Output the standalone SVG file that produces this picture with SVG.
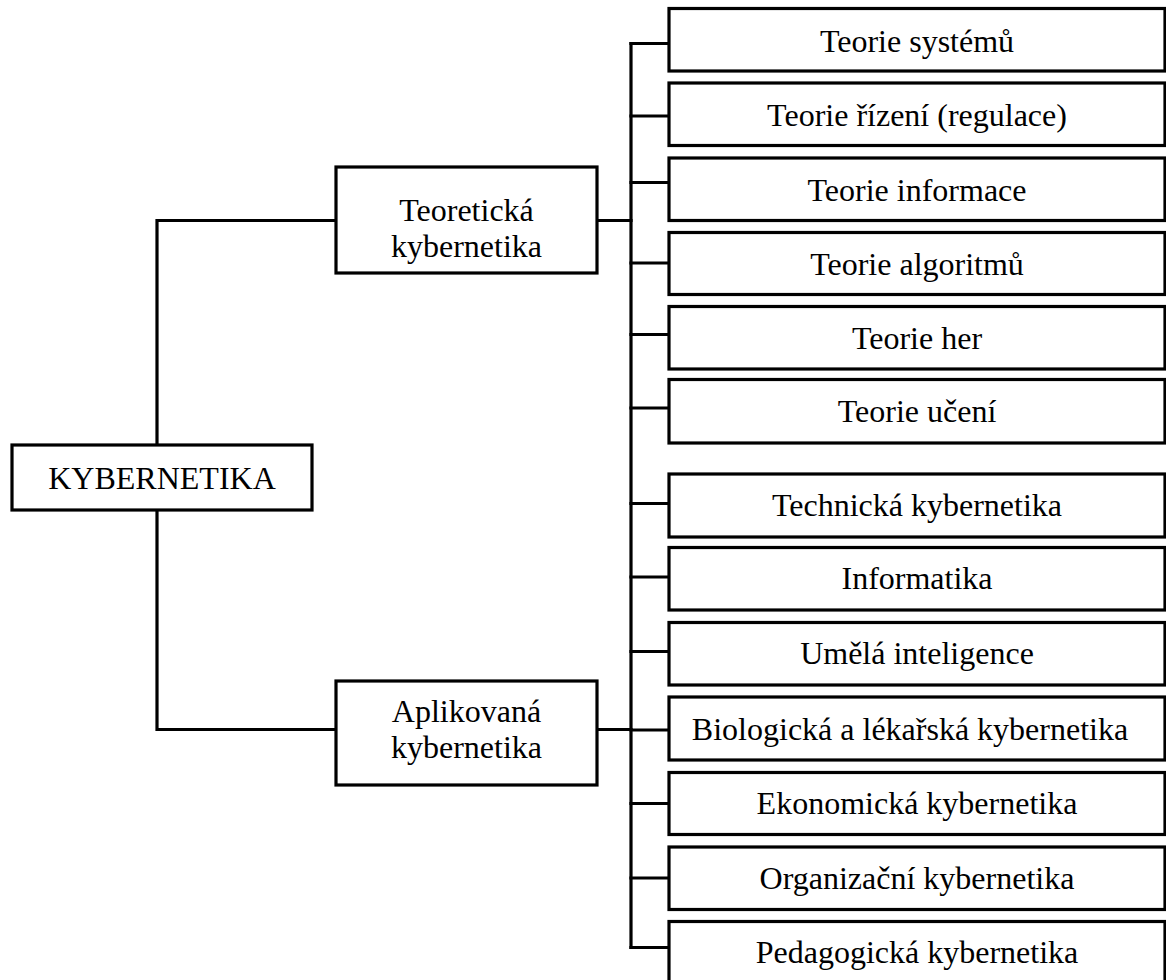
<svg xmlns="http://www.w3.org/2000/svg" width="1166" height="980" viewBox="0 0 1166 980">
  <style>
    .box { fill: #ffffff; stroke: #000000; stroke-width: 3.2; }
    .wire { fill: none; stroke: #000000; stroke-width: 3.2; stroke-linejoin: miter; stroke-linecap: square; }
    text { font-family: "Liberation Serif", "Times New Roman", serif; font-size: 32px; fill: #000000; text-anchor: middle; }
  </style>
  <rect width="1166" height="980" fill="#ffffff"/>

  <!-- connectors -->
  <g id="connectors">
    <!-- root to the two main branches -->
    <polyline class="wire" points="336,220.5 157,220.5 157,445"/>
    <polyline class="wire" points="157,510 157,729.5 336,729.5"/>
    <!-- main branches to the trunk -->
    <line class="wire" x1="597" y1="220.5" x2="631" y2="220.5"/>
    <line class="wire" x1="597" y1="729.5" x2="631" y2="729.5"/>
    <!-- trunk -->
    <line class="wire" x1="631" y1="43.5" x2="631" y2="947.5"/>
    <!-- stubs to the leaf boxes -->
    <line class="wire" x1="631" y1="43.5" x2="669" y2="43.5"/>
    <line class="wire" x1="631" y1="116" x2="669" y2="116"/>
    <line class="wire" x1="631" y1="182.5" x2="669" y2="182.5"/>
    <line class="wire" x1="631" y1="263" x2="669" y2="263"/>
    <line class="wire" x1="631" y1="334.5" x2="669" y2="334.5"/>
    <line class="wire" x1="631" y1="408" x2="669" y2="408"/>
    <line class="wire" x1="631" y1="503.5" x2="669" y2="503.5"/>
    <line class="wire" x1="631" y1="577" x2="669" y2="577"/>
    <line class="wire" x1="631" y1="651.5" x2="669" y2="651.5"/>
    <line class="wire" x1="631" y1="730" x2="669" y2="730"/>
    <line class="wire" x1="631" y1="803.5" x2="669" y2="803.5"/>
    <line class="wire" x1="631" y1="878" x2="669" y2="878"/>
    <line class="wire" x1="631" y1="947.5" x2="669" y2="947.5"/>
  </g>

  <!-- root -->
  <g id="kybernetika">
    <rect class="box" x="12" y="445" width="300" height="65"/>
    <text x="162" y="489">KYBERNETIKA</text>
  </g>

  <!-- main branches -->
  <g id="teoreticka">
    <rect class="box" x="336" y="167" width="261" height="106"/>
    <text x="466.5" y="221">Teoretická</text>
    <text x="466.5" y="257">kybernetika</text>
  </g>
  <g id="aplikovana">
    <rect class="box" x="336" y="681" width="261" height="104"/>
    <text x="466.5" y="722">Aplikovaná</text>
    <text x="466.5" y="758">kybernetika</text>
  </g>

  <!-- theoretical leaves -->
  <g id="teorie-systemu">
    <rect class="box" x="669" y="8.5" width="496" height="62.5"/>
    <text x="917" y="52">Teorie systémů</text>
  </g>
  <g id="teorie-rizeni">
    <rect class="box" x="669" y="83" width="496" height="62.5"/>
    <text x="917" y="126">Teorie řízení (regulace)</text>
  </g>
  <g id="teorie-informace">
    <rect class="box" x="669" y="158" width="496" height="62.5"/>
    <text x="917" y="201">Teorie informace</text>
  </g>
  <g id="teorie-algoritmu">
    <rect class="box" x="669" y="232.5" width="496" height="62"/>
    <text x="917" y="275">Teorie algoritmů</text>
  </g>
  <g id="teorie-her">
    <rect class="box" x="669" y="306.5" width="496" height="62.5"/>
    <text x="917" y="349">Teorie her</text>
  </g>
  <g id="teorie-uceni">
    <rect class="box" x="669" y="379.5" width="496" height="63.5"/>
    <text x="917" y="422">Teorie učení</text>
  </g>

  <!-- applied leaves -->
  <g id="technicka">
    <rect class="box" x="669" y="474" width="496" height="63"/>
    <text x="917" y="516">Technická kybernetika</text>
  </g>
  <g id="informatika">
    <rect class="box" x="669" y="547.5" width="496" height="62.5"/>
    <text x="917" y="589">Informatika</text>
  </g>
  <g id="umela-inteligence">
    <rect class="box" x="669" y="622.5" width="496" height="62.5"/>
    <text x="917" y="664">Umělá inteligence</text>
  </g>
  <g id="biologicka">
    <rect class="box" x="669" y="697" width="496" height="63"/>
    <text x="910" y="740">Biologická a lékařská kybernetika</text>
  </g>
  <g id="ekonomicka">
    <rect class="box" x="669" y="772.5" width="496" height="62"/>
    <text x="917" y="814">Ekonomická kybernetika</text>
  </g>
  <g id="organizacni">
    <rect class="box" x="669" y="847" width="496" height="62.5"/>
    <text x="917" y="889">Organizační kybernetika</text>
  </g>
  <g id="pedagogicka">
    <rect class="box" x="669" y="921.5" width="496" height="70"/>
    <text x="917" y="963">Pedagogická kybernetika</text>
  </g>
</svg>
